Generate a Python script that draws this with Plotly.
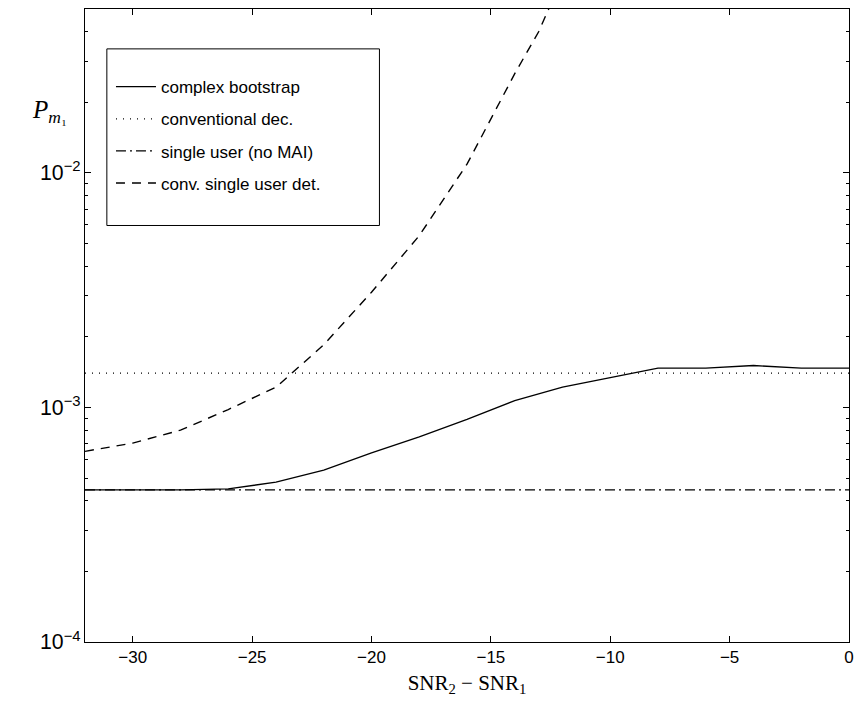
import plotly.graph_objects as go
import math

# ---- data ----
snr_cb = [-32, -30, -28, -26, -24, -22, -20, -18, -16, -14, -12, -10, -8, -6, -4, -2, 0]
pm_cb = [4.45e-4, 4.45e-4, 4.45e-4, 4.5e-4, 4.8e-4, 5.4e-4, 6.4e-4, 7.5e-4, 8.9e-4,
         1.07e-3, 1.22e-3, 1.34e-3, 1.47e-3, 1.47e-3, 1.51e-3, 1.47e-3, 1.47e-3]

snr_conv = [-32, 0]
pm_conv = [1.40e-3, 1.40e-3]

snr_su = [-32, 0]
pm_su = [4.45e-4, 4.45e-4]

snr_cd = [-32, -30, -28, -26, -24, -22, -20, -18, -16, -14, -13, -12]
pm_cd = [6.5e-4, 7.05e-4, 8.0e-4, 9.8e-4, 1.22e-3, 1.85e-3, 3.1e-3, 5.4e-3,
         1.09e-2, 2.65e-2, 4.0e-2, 6.8e-2]

names = ["complex bootstrap", "conventional dec.", "single user (no MAI)", "conv. single user det."]
x_ticks = [-30, -25, -20, -15, -10, -5, 0]

fig = go.Figure()
series = [
    (snr_cb, pm_cb, "solid", 1.3),
    (snr_conv, pm_conv, "1px,6px", 1.3),
    (snr_su, pm_su, "10px,4px,2px,4px", 1.2),
    (snr_cd, pm_cd, "9px,7px", 1.4),
]
for i, (xs, ys, dash, w) in enumerate(series):
    fig.add_trace(go.Scatter(
        x=xs, y=ys, mode="lines", name=names[i], legendgroup=str(i),
        line=dict(color="black", width=w, dash=dash),
    ))

fig.update_layout(
    width=862, height=707,
    margin=dict(l=85, r=9, t=8, b=65),
    paper_bgcolor="white", plot_bgcolor="white",
    font=dict(family="Liberation Sans, Arial, sans-serif", size=17, color="black"),
    showlegend=True,
    legend=dict(
        x=0.034, y=0.905, xanchor="left", yanchor="top",
        bgcolor="rgba(0,0,0,0)", borderwidth=0,
        font=dict(size=17), tracegroupgap=7, traceorder="grouped",
        itemwidth=40,
    ),
    shapes=[dict(type="rect", xref="paper", yref="paper",
                 x0=0.0286, x1=0.3854, y0=0.658, y1=0.937,
                 line=dict(color="black", width=1), fillcolor="white", layer="below")],
    annotations=[dict(
        text="<i>P</i><sub><i>m</i>\u2081</sub>", xref="paper", yref="paper",
        x=-0.072, y=0.866, showarrow=False,
        font=dict(family="Liberation Serif, serif", size=25),
    )],
)

fig.update_xaxes(
    range=[-32, 0], tickvals=x_ticks,
    ticks="inside", ticklen=6, tickcolor="black",
    showline=True, linecolor="black", linewidth=1, mirror="ticks",
    showgrid=False, zeroline=False,
    title=dict(text="SNR<sub>2</sub> \u2212 SNR<sub>1</sub>",
               font=dict(family="Liberation Serif, serif", size=21), standoff=8),
)
fig.update_yaxes(
    type="log", range=[-4, math.log10(0.05)], dtick=1,
    exponentformat="power", showexponent="all",
    ticks="inside", ticklen=6, tickcolor="black",
    minor=dict(ticks="inside", ticklen=3, tickcolor="black", showgrid=False),
    showline=True, linecolor="black", linewidth=1, mirror="ticks",
    showgrid=False, zeroline=False,
)

fig.write_html("out.html")
